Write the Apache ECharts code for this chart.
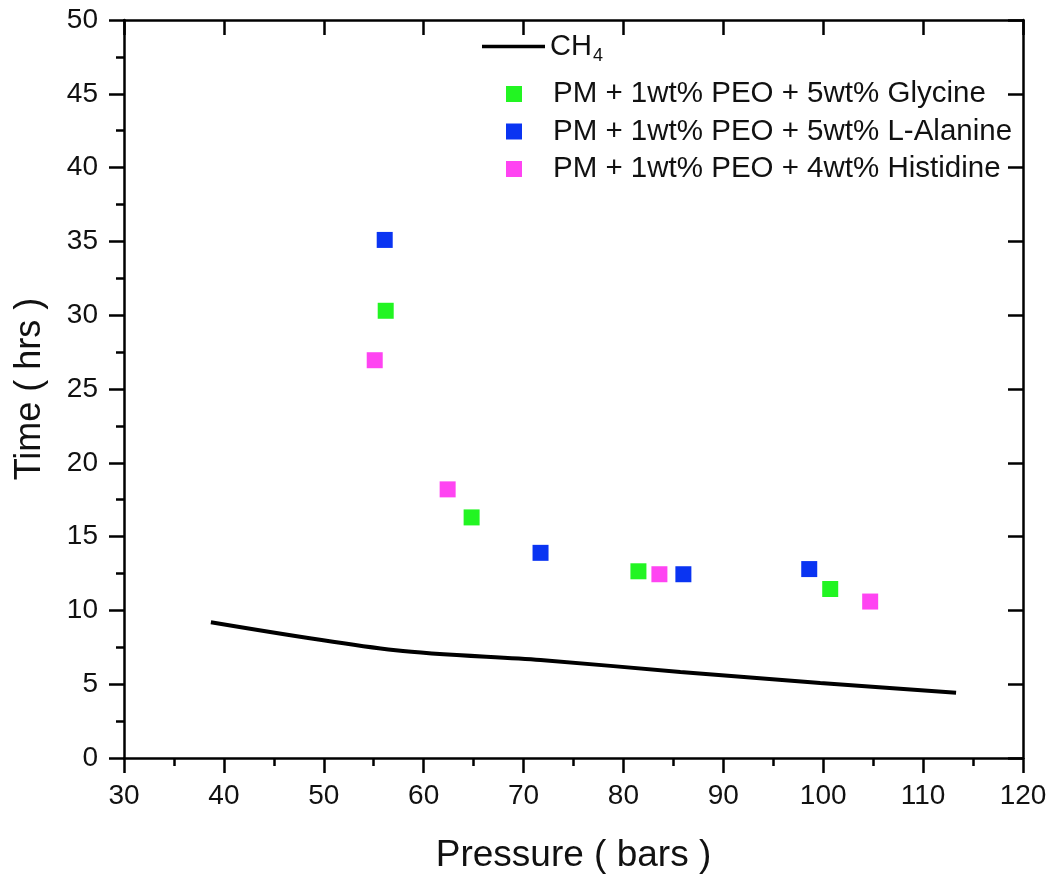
<!DOCTYPE html>
<html>
<head>
<meta charset="utf-8">
<script src="https://cdn.jsdelivr.net/npm/echarts@6/dist/echarts.min.js"></script>
<style>
html,body{margin:0;padding:0;background:#fff;}
#chart{width:1063px;height:878px;}
</style>
</head>
<body>
<div id="chart"></div>
<script>
// Data
const ch4Pressure = [38.7, 57.2, 71.7, 85.7, 99.7, 113.3];
const ch4Time     = [9.2, 7.3, 6.64, 5.83, 5.08, 4.42];

const glyPressure = [56.2, 64.8, 81.5, 100.7];
const glyTime     = [30.3, 16.3, 12.65, 11.45];

const alaPressure = [56.1, 71.7, 86.0, 98.6];
const alaTime     = [35.1, 13.9, 12.45, 12.8];

const hisPressure = [55.1, 62.4, 83.6, 104.7];
const hisTime     = [26.95, 18.2, 12.45, 10.6];

const seriesNames = ['CH4', 'PM + 1wt% PEO + 5wt% Glycine', 'PM + 1wt% PEO + 5wt% L-Alanine', 'PM + 1wt% PEO + 4wt% Histidine'];
const xTicks = [30, 120, 10];
const yTicks = [0, 50, 5];

function zip(a, b) { return a.map((v, i) => [v, b[i]]); }

const FONT = '"Liberation Sans", Arial, sans-serif';
const chart = echarts.init(document.getElementById('chart'));
const axisLine = { show: true, onZero: false, lineStyle: { color: '#000', width: 2.5 } };

chart.setOption({
  backgroundColor: '#fff',
  animation: false,
  textStyle: { fontFamily: FONT },
  grid: { left: 124, right: 40, top: 20, bottom: 120, containLabel: false, outerBoundsMode: 'none' },
  legend: [
    {
      data: [{ name: seriesNames[0], icon: 'rect' }],
      left: 477, top: 27,
      itemWidth: 63, itemHeight: 3.5, itemGap: 0,
      itemStyle: { color: '#000' },
      textStyle: {
        fontFamily: FONT, fontSize: 29, color: '#111',
        rich: {
          a: { fontFamily: FONT, fontSize: 29, color: '#111' },
          s: { fontFamily: FONT, fontSize: 18, color: '#111', verticalAlign: 'bottom', padding: [20, 0, 0, 1] }
        }
      },
      formatter: () => '{a|CH}{s|4}'
    },
    {
      data: seriesNames.slice(1),
      orient: 'vertical',
      left: 501, top: 74,
      itemWidth: 16, itemHeight: 16, itemGap: 7.5,
      textStyle: { fontFamily: FONT, fontSize: 29.5, color: '#111', padding: [0, 0, 0, 26] }
    }
  ],
  xAxis: [
    {
      type: 'value', position: 'bottom',
      min: xTicks[0], max: xTicks[1], interval: xTicks[2],
      name: 'Pressure ( bars )', nameLocation: 'middle', nameGap: 79,
      nameTextStyle: { fontFamily: FONT, fontSize: 37, color: '#111' },
      axisLine: axisLine,
      axisTick: { show: true, inside: false, length: 15, lineStyle: { color: '#000', width: 2.5 } },
      minorTick: { show: true, splitNumber: 2, length: 8, lineStyle: { color: '#000', width: 2.5 } },
      axisLabel: { fontFamily: FONT, fontSize: 28, color: '#111', margin: 24 },
      splitLine: { show: false }
    },
    {
      type: 'value', position: 'top',
      min: xTicks[0], max: xTicks[1], interval: xTicks[2],
      axisLine: axisLine,
      axisTick: { show: true, inside: true, length: 15, lineStyle: { color: '#000', width: 2.5 } },
      axisLabel: { show: false },
      splitLine: { show: false }
    }
  ],
  yAxis: [
    {
      type: 'value', position: 'left',
      min: yTicks[0], max: yTicks[1], interval: yTicks[2],
      name: 'Time ( hrs )', nameLocation: 'middle', nameGap: 76,
      nameTextStyle: { fontFamily: FONT, fontSize: 36, color: '#111' },
      axisLine: axisLine,
      axisTick: { show: true, inside: false, length: 15, lineStyle: { color: '#000', width: 2.5 } },
      minorTick: { show: true, splitNumber: 2, length: 8, lineStyle: { color: '#000', width: 2.5 } },
      axisLabel: { fontFamily: FONT, fontSize: 28, color: '#111', margin: 26 },
      splitLine: { show: false }
    },
    {
      type: 'value', position: 'right',
      min: yTicks[0], max: yTicks[1], interval: yTicks[2],
      axisLine: axisLine,
      axisTick: { show: true, inside: true, length: 15, lineStyle: { color: '#000', width: 2.5 } },
      axisLabel: { show: false },
      splitLine: { show: false }
    }
  ],
  series: [
    {
      name: seriesNames[0], type: 'line', smooth: 0.3,
      data: zip(ch4Pressure, ch4Time),
      symbol: 'none', showSymbol: false,
      lineStyle: { color: '#000', width: 4 },
      itemStyle: { color: '#000' }
    },
    {
      name: seriesNames[1], type: 'scatter', symbol: 'rect', symbolSize: 16,
      data: zip(glyPressure, glyTime),
      itemStyle: { color: '#22f522', opacity: 1 }
    },
    {
      name: seriesNames[2], type: 'scatter', symbol: 'rect', symbolSize: 16,
      data: zip(alaPressure, alaTime),
      itemStyle: { color: '#0a34f2', opacity: 1 }
    },
    {
      name: seriesNames[3], type: 'scatter', symbol: 'rect', symbolSize: 16,
      data: zip(hisPressure, hisTime),
      itemStyle: { color: '#ff44f2', opacity: 1 }
    }
  ]
});
</script>
</body>
</html>
